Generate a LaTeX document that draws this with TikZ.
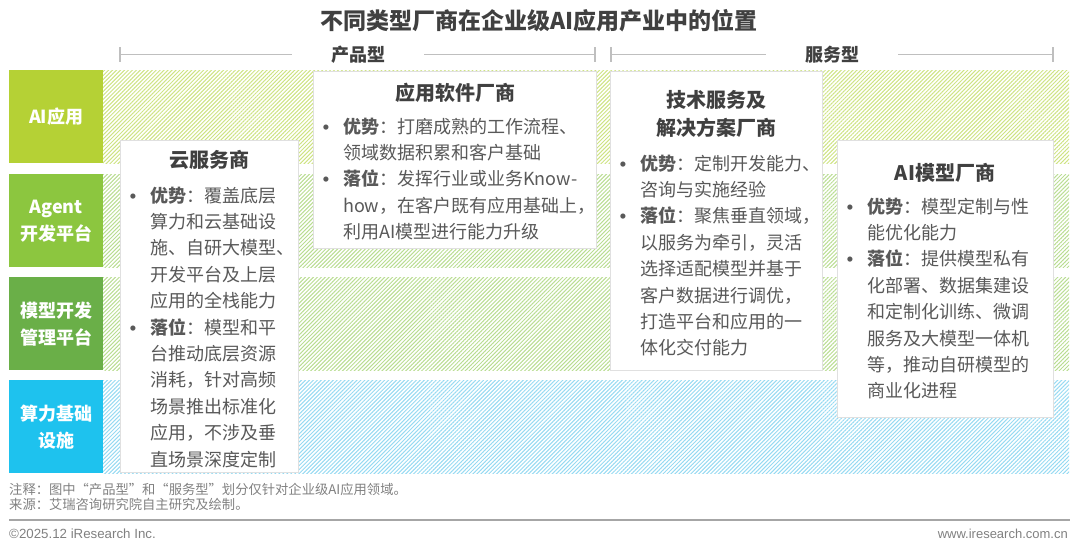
\documentclass[tikz,border=0pt]{standalone}
\usepackage{fontspec}
\setmainfont{Noto Sans CJK SC}
\newfontfamily\latinfont{Liberation Sans}
\usetikzlibrary{patterns.meta}
\definecolor{labA}{HTML}{B5D135}
\definecolor{labB}{HTML}{8CC63F}
\definecolor{labC}{HTML}{6AAF48}
\definecolor{labD}{HTML}{1EC2EE}
\definecolor{hatA}{HTML}{CEE383}
\definecolor{hatB}{HTML}{B9DD92}
\definecolor{hatD}{HTML}{96DAF2}
\definecolor{titlegray}{HTML}{404040}
\definecolor{bodygray}{HTML}{595959}
\definecolor{notegray}{HTML}{808080}
\definecolor{brkgray}{HTML}{BFBFBF}
\newcommand\bl{\leavevmode\llap{{\latinfont\bfseries •}\hspace{14pt}}}
\begin{document}
\begin{tikzpicture}[x=1pt,y=-1pt,
  lab/.style={fill=#1, text=white, font=\bfseries\fontsize{18}{27}\selectfont, align=center, inner sep=0, minimum width=94pt, minimum height=93pt, anchor=north west},
  hatch/.style={pattern={Lines[angle=45,distance=2.8pt,line width=1pt]}, pattern color=#1},
  card/.style={fill=white, draw=black!12, line width=0.7pt, inner sep=0, anchor=north west},
  ctitle/.style={font=\bfseries\fontsize{20}{28}\selectfont, text=titlegray, align=center, inner sep=0},
  cbody/.style={anchor=base west, inner sep=0, text=bodygray, font=\fontsize{18}{26.4}\selectfont},
  brk/.style={draw=brkgray, line width=1.2pt},
  brklab/.style={font=\bfseries\fontsize{18}{20}\selectfont, text=titlegray, inner xsep=39pt, inner ysep=0},
  note/.style={anchor=base west, inner sep=0, text=notegray},
]
\useasboundingbox (0,0) rectangle (1080,547);

% title
\node[font=\bfseries\fontsize{23}{26}\selectfont, text=titlegray] (title) at (539,21) {不同类型厂商在企业级AI应用产业中的位置};

% brackets
\node[brklab] (prod) at (358,54.5) {产品型};
\node[brklab] (serv) at (832,54.5) {服务型};
\coordinate (pL) at (120,54.5);
\coordinate (pR) at (595,54.5);
\coordinate (sL) at (611,54.5);
\coordinate (sR) at (1053,54.5);
\draw[brk] (pL) -- (prod.west);
\draw[brk] (prod.east) -- (pR);
\draw[brk] (sL) -- (serv.west);
\draw[brk] (serv.east) -- (sR);
\foreach \c in {pL,pR,sL,sR}{
  \draw[brk] ([yshift=7.5pt]\c) -- ([yshift=-7.5pt]\c);
}

% hatched bands
\path[hatch=hatA] (103,70) rectangle (1069,163);
\path[hatch=hatB] (103,174) rectangle (1069,267);
\path[hatch=hatB] (103,277) rectangle (1069,370);
\path[hatch=hatD] (103,380) rectangle (1069,473);

% layer labels
\node[lab=labA] (l1) at (9,70) {AI应用};
\node[lab=labB] (l2) at (9,174) {Agent\\开发平台};
\node[lab=labC] (l3) at (9,277) {模型开发\\管理平台};
\node[lab=labD] (l4) at (9,380) {算力基础\\设施};

% cards
\node[card, minimum width=178pt, minimum height=332pt] (c1) at (120,140) {};
\node[card, minimum width=283pt, minimum height=177pt] (c2) at (313,71) {};
\node[card, minimum width=212pt, minimum height=299pt] (c3) at (610,71) {};
\node[card, minimum width=216pt, minimum height=277pt] (c4) at (837,140) {};

% card titles
\node[ctitle] (t1) at (209,160) {云服务商};
\node[ctitle] (t2) at (455,93) {应用软件厂商};
\node[ctitle] (t3) at (716,114) {技术服务及\\解决方案厂商};
\node[ctitle] (t4) at (945,173) {AI模型厂商};

% card bodies
\node[cbody] (b1) at (150,202) {\parbox[t]{250pt}{\bl\textbf{优势}：覆盖底层\\算力和云基础设\\施、自研大模型、\\开发平台及上层\\应用的全栈能力\\\bl\textbf{落位}：模型和平\\台推动底层资源\\消耗，针对高频\\场景推出标准化\\应用，不涉及垂\\直场景深度定制}};
\node[cbody] (b2) at (343,133) {\parbox[t]{300pt}{\bl\textbf{优势}：打磨成熟的工作流程、\\领域数据积累和客户基础\\\bl\textbf{落位}：发挥行业或业务Know-\\how，在客户既有应用基础上，\\利用AI模型进行能力升级}};
\node[cbody] (b3) at (640,170) {\parbox[t]{250pt}{\bl\textbf{优势}：定制开发能力、\\咨询与实施经验\\\bl\textbf{落位}：聚焦垂直领域，\\以服务为牵引，灵活\\选择适配模型并基于\\客户数据进行调优，\\打造平台和应用的一\\体化交付能力}};
\node[cbody] (b4) at (867,213) {\parbox[t]{250pt}{\bl\textbf{优势}：模型定制与性\\能优化能力\\\bl\textbf{落位}：提供模型私有\\化部署、数据集建设\\和定制化训练、微调\\服务及大模型一体机\\等，推动自研模型的\\商业化进程}};

% notes
\node[note, font=\fontsize{13.3}{15}\selectfont] (n1) at (9,494) {\parbox[t]{700pt}{注释：图中“产品型”和“服务型”划分仅针对企业级AI应用领域。\\来源：艾瑞咨询研究院自主研究及绘制。}};
\coordinate (fL) at (9,520);
\coordinate (fR) at (1070,520);
\draw[draw=black!35, line width=1.1pt] (fL) -- (fR);
\node[note, font=\latinfont\fontsize{13.3}{15}\selectfont] (cp) at (9,538.5) {©2025.12 iResearch Inc.};
\node[note, anchor=base east, font=\latinfont\fontsize{13}{15}\selectfont] (www) at (1068,538) {www.iresearch.com.cn};
\end{tikzpicture}
\end{document}
